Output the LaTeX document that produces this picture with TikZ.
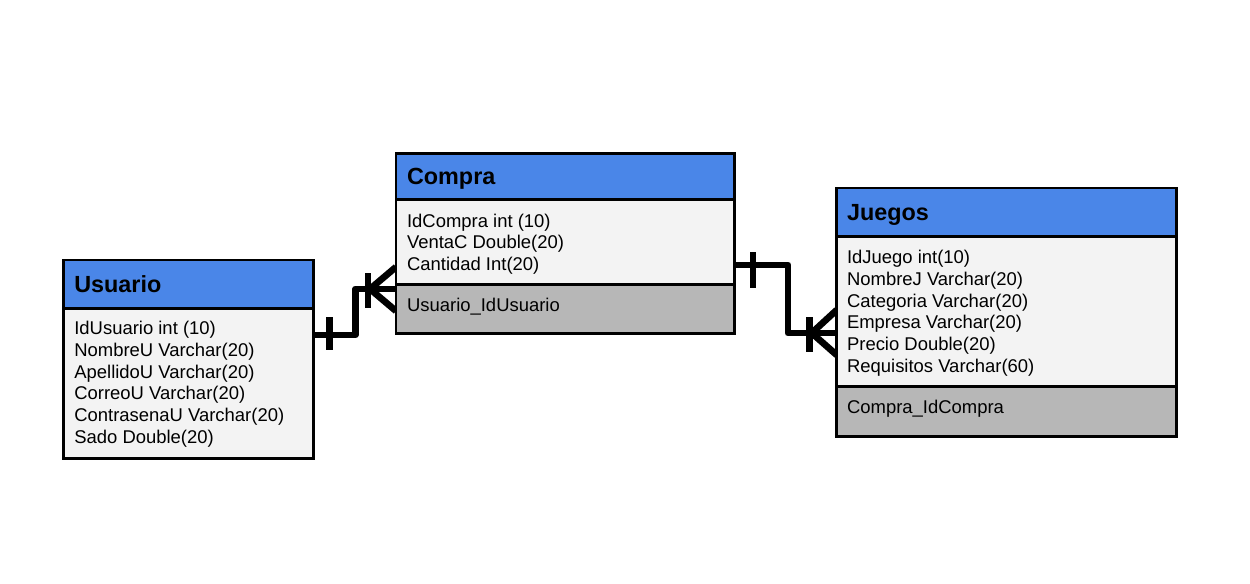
\documentclass[tikz,border=0pt]{standalone}
\usepackage{fontspec}
\setmainfont{Liberation Sans}
\usetikzlibrary{calc}
\definecolor{hblue}{HTML}{4A86E8}
\definecolor{bodyg}{HTML}{F3F3F3}
\definecolor{rowg}{HTML}{B7B7B7}
\begin{document}
\begin{tikzpicture}[x=0.02cm,y=-0.02cm,
  part/.style={draw=black, line width=1.7pt, anchor=north west, inner sep=0pt, outer sep=0pt},
  hdr/.style={part, fill=hblue},
  bdy/.style={part, fill=bodyg},
  fk/.style={part, fill=rowg},
  ttl/.style={anchor=base west, inner sep=0pt, font=\fontsize{13.3}{15}\selectfont\bfseries},
  fld/.style={anchor=north west, inner sep=0pt, align=left, font=\fontsize{10.5}{12.36}\selectfont},
  fkt/.style={anchor=base west, inner sep=0pt, font=\fontsize{10.5}{12.36}\selectfont},
  rel/.style={draw=black, line width=3.8pt, line join=round},
  tickln/.style={draw=black, line width=3.8pt}
]
\useasboundingbox (0,0) rectangle (1250,584);

% connectors (drawn first)
\coordinate (uR) at (313.3,335);
\coordinate (cL) at (396,289);
\coordinate (cR) at (735,265);
\coordinate (jL) at (836.7,333);
\draw[rel] (uR) -- ++(42,0) |- (cL);
\draw[tickln] ($(uR)+(16,-18)$) -- ($(uR)+(16,15)$);
\draw[tickln] ($(cL)+(-28,-16)$) -- ($(cL)+(-28,19)$);
\draw[tickln] ($(cL)+(-26,0)$) -- ($(cL)+(0,-22)$);
\draw[tickln] ($(cL)+(-26,0)$) -- ($(cL)+(0,22)$);
\draw[rel] (cR) -- ++(53,0) |- (jL);
\draw[tickln] ($(cR)+(18,-13)$) -- ($(cR)+(18,23)$);
\draw[tickln] ($(jL)+(-27,-16)$) -- ($(jL)+(-27,19)$);
\draw[tickln] ($(jL)+(-25,0)$) -- ($(jL)+(0,-23)$);
\draw[tickln] ($(jL)+(-25,0)$) -- ($(jL)+(0,22)$);

% Usuario
\node[hdr, minimum width=5cm, minimum height=0.966cm] (usuH) at (63.3,260) {};
\node[bdy, minimum width=5cm, minimum height=3cm] (usuB) at (63.3,308.3) {};
\node[ttl] (usuT) at (74,292) {Usuario};
\node[fld] (usuF) at (74,321) {IdUsuario int (10)\\NombreU Varchar(20)\\ApellidoU Varchar(20)\\CorreoU Varchar(20)\\ContrasenaU Varchar(20)\\Sado Double(20)};

% Compra
\node[hdr, minimum width=6.78cm, minimum height=0.934cm] (comH) at (396,153.3) {};
\node[bdy, minimum width=6.78cm, minimum height=1.7cm] (comB) at (396,200) {};
\node[fk, minimum width=6.78cm, minimum height=0.966cm] (comK) at (396,285) {};
\node[ttl] (comT) at (406.7,185) {Compra};
\node[fld] (comF) at (406.7,213.5) {IdCompra int (10)\\VentaC Double(20)\\Cantidad Int(20)};
\node[fkt] (comKT) at (406.7,311.7) {Usuario\_IdUsuario};

% Juegos
\node[hdr, minimum width=6.8cm, minimum height=0.974cm] (jueH) at (836.7,188) {};
\node[bdy, minimum width=6.8cm, minimum height=3cm] (jueB) at (836.7,236.7) {};
\node[fk, minimum width=6.8cm, minimum height=1cm] (jueK) at (836.7,386.7) {};
\node[ttl] (jueT) at (846.7,220) {Juegos};
\node[fld] (jueF) at (846.7,250) {IdJuego int(10)\\NombreJ Varchar(20)\\Categoria Varchar(20)\\Empresa Varchar(20)\\Precio Double(20)\\Requisitos Varchar(60)};
\node[fkt] (jueKT) at (846.7,413.3) {Compra\_IdCompra};
\end{tikzpicture}
\end{document}
